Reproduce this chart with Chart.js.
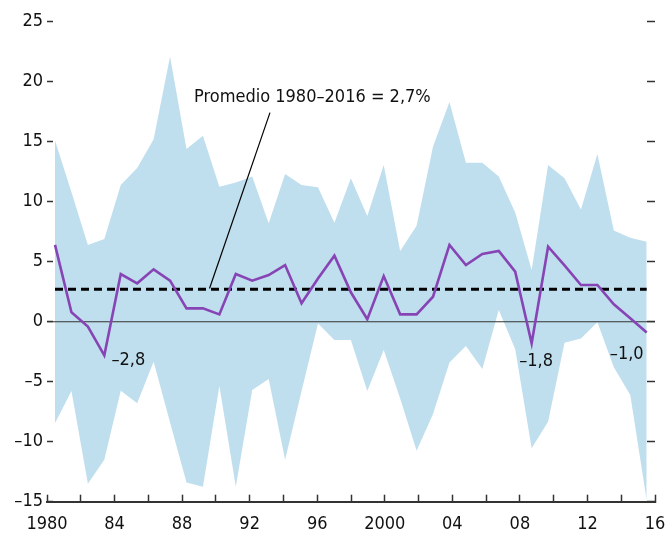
<!DOCTYPE html>
<html><head><meta charset="utf-8">
<script src="https://cdn.jsdelivr.net/npm/chart.js@4.4.0/dist/chart.umd.min.js"></script>
<style>html,body{margin:0;padding:0;background:#fff;}#wrap{width:665px;height:533px;}</style>
</head><body><div id="wrap"><canvas id="c" width="665" height="533"></canvas></div>
<script>
const years = [1980,1981,1982,1983,1984,1985,1986,1987,1988,1989,1990,1991,1992,1993,1994,1995,1996,1997,1998,1999,2000,2001,2002,2003,2004,2005,2006,2007,2008,2009,2010,2011,2012,2013,2014,2015,2016];
const growth = [6.4,0.78,-0.4,-2.8,3.97,3.2,4.36,3.42,1.11,1.11,0.61,3.97,3.42,3.89,4.72,1.53,3.6,5.5,2.45,0.2,3.8,0.61,0.61,2.08,6.4,4.72,5.64,5.89,4.17,-1.8,6.25,4.7,3.06,3.06,1.45,0.28,-0.9];
const upperBand = [15.1,10.8,6.4,6.9,11.4,12.8,15.2,22.1,14.4,15.5,11.25,11.6,12.1,8.2,12.3,11.4,11.2,8.25,11.95,8.8,13.06,5.9,8.0,14.6,18.3,13.25,13.25,12.1,9.1,4.3,13.06,11.95,9.35,13.97,7.6,7.0,6.67];
const lowerBand = [-8.47,-5.78,-13.5,-11.5,-5.75,-6.8,-3.33,-8.4,-13.4,-13.75,-5.36,-13.75,-5.7,-4.78,-11.5,-5.8,-0.14,-1.53,-1.53,-5.78,-2.36,-6.4,-10.75,-7.7,-3.4,-2.03,-3.94,0.97,-2.3,-10.55,-8.33,-1.75,-1.39,-0.05,-3.8,-6.1,-14.9];
const averageValue = 2.7;
const averageText = 'Promedio 1980–2016 = 2,7%';
const yTicks = [-15,-10,-5,0,5,10,15,20,25];
const xTickYears = [1980,1982,1984,1986,1988,1990,1992,1994,1996,1998,2000,2002,2004,2006,2008,2010,2012,2014,2016];
const xTickLabels = {1980:'1980',1984:'84',1988:'88',1992:'92',1996:'96',2000:'2000',2004:'04',2008:'08',2012:'12',2016:'16'};
const pointLabels = [{year:1983,text:'–2,8'},{year:2009,text:'–1,8'},{year:2016,text:'–1,0'}];

const FONT = "'Liberation Sans Narrow','Arial Narrow','DejaVu Sans Condensed',sans-serif";
const FSIZE = 18;
const BAND = '#c0dfee';
const PURPLE = '#8744b4';
const X_MIN = 1979.513, X_MAX = 2016.505;
const labelOffsets = [[24,5],[4.5,18],[-20,22]];
const annotPos = {textX:1988.46, textY:18.27, fromX:1993.08, fromY:17.42, toX:1989.40, toY:2.77};

Chart.defaults.font.family = FONT;
Chart.defaults.font.size = FSIZE;
Chart.defaults.color = '#111';

const annotPlugin = {
  id:'annot',
  afterDatasetsDraw(chart){
    const ctx = chart.ctx, x = chart.scales.x, y = chart.scales.y;
    ctx.save();
    ctx.strokeStyle = '#000'; ctx.lineWidth = 1.2;
    ctx.beginPath();
    ctx.moveTo(x.getPixelForValue(annotPos.fromX), y.getPixelForValue(annotPos.fromY));
    ctx.lineTo(x.getPixelForValue(annotPos.toX), y.getPixelForValue(annotPos.toY));
    ctx.stroke();
    ctx.font = FSIZE + 'px ' + FONT;
    ctx.fillStyle = '#111';
    ctx.textAlign = 'left'; ctx.textBaseline = 'alphabetic';
    ctx.fillText(averageText, x.getPixelForValue(annotPos.textX), y.getPixelForValue(annotPos.textY));
    ctx.textAlign = 'center'; ctx.textBaseline = 'middle';
    pointLabels.forEach((p,i)=>{
      const idx = years.indexOf(p.year);
      const px = x.getPixelForValue(p.year) + labelOffsets[i][0];
      const py = y.getPixelForValue(growth[idx]) + labelOffsets[i][1];
      ctx.fillText(p.text, px, py);
    });
    ctx.restore();
  }
};

new Chart(document.getElementById('c'), {
  type:'line',
  data:{datasets:[
    {label:'growth', data: years.map((yr,i)=>({x:yr,y:growth[i]})), borderColor:PURPLE, borderWidth:2.6, pointRadius:0, fill:false, tension:0},
    {label:'avg', data: [{x:years[0],y:averageValue},{x:years[years.length-1],y:averageValue}], borderColor:'#000', borderWidth:3, borderDash:[8,5], pointRadius:0, fill:false},
    {label:'zero', data: [{x:X_MIN,y:0},{x:X_MAX,y:0}], borderColor:'#333', borderWidth:1.1, pointRadius:0, fill:false},
    {label:'upper', data: years.map((yr,i)=>({x:yr,y:upperBand[i]})), borderWidth:0, borderColor:BAND, backgroundColor:BAND, pointRadius:0, fill:'+1', tension:0},
    {label:'lower', data: years.map((yr,i)=>({x:yr,y:lowerBand[i]})), borderWidth:0, borderColor:BAND, backgroundColor:BAND, pointRadius:0, fill:false, tension:0}
  ]},
  options:{
    responsive:false, maintainAspectRatio:false, animation:false, devicePixelRatio:1,
    layout:{padding:{top:21.7,left:0,right:0,bottom:0}},
    plugins:{legend:{display:false}, tooltip:{enabled:false}},
    scales:{
      x:{type:'linear', min:X_MIN, max:X_MAX, display:false},
      x2:{type:'linear', position:'bottom', min:1980, max:2016,
        afterBuildTicks:s=>{s.ticks = xTickYears.map(v=>({value:v}));},
        ticks:{autoSkip:false, maxRotation:0, minRotation:0, padding:18.5, callback:v=>xTickLabels[v]||'', color:'#111'},
        grid:{drawOnChartArea:false, drawTicks:true, tickLength:-7, tickColor:'#333', tickWidth:1.5},
        border:{display:true, color:'#333', width:2},
        afterFit:s=>{s.height = 31.3; s.paddingLeft = 0; s.paddingRight = 0;}},
      y:{type:'linear', position:'left', min:-15, max:25,
        afterBuildTicks:s=>{s.ticks = yTicks.map(v=>({value:v}));},
        ticks:{padding:10, callback:v=> v<0 ? '–'+Math.abs(v) : String(v), color:'#111'},
        grid:{drawOnChartArea:false, drawTicks:true, tickLength:-6, tickColor:'#333', tickWidth:1.5},
        border:{display:false},
        afterFit:s=>{s.width = 47;}},
      y2:{type:'linear', position:'right', min:-15, max:25,
        afterBuildTicks:s=>{s.ticks = yTicks.map(v=>({value:v}));},
        ticks:{display:false},
        grid:{drawOnChartArea:false, drawTicks:true, tickLength:-8, tickColor:'#333', tickWidth:1.5},
        border:{display:false},
        afterFit:s=>{s.width = 10;}}
    }
  },
  plugins:[annotPlugin]
});
</script></body></html>
